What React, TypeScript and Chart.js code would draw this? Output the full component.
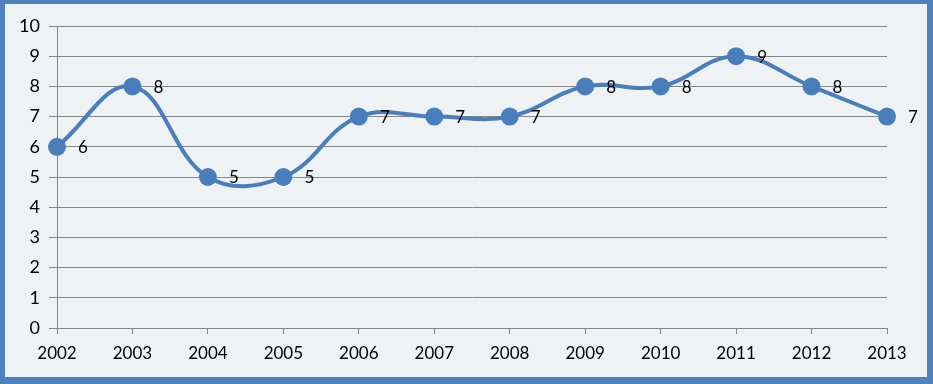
import React, { useEffect, useRef } from "react";
import { Chart, registerables } from "chart.js";

Chart.register(...registerables);

const years = ["2002", "2003", "2004", "2005", "2006", "2007", "2008", "2009", "2010", "2011", "2012", "2013"];
const values = [6, 8, 5, 5, 7, 7, 7, 8, 8, 9, 8, 7];

const BLUE = "#4A7EBB";
const GRID = "#868686";
const FONT = "Lato, 'Open Sans', sans-serif";

const dataLabels = {
  id: "dataLabels",
  afterDatasetsDraw(chart: any) {
    const ctx = chart.ctx;
    const meta = chart.getDatasetMeta(0);
    ctx.save();
    ctx.fillStyle = "#000000";
    ctx.font = `17px ${FONT}`;
    ctx.textAlign = "center";
    ctx.textBaseline = "middle";
    meta.data.forEach((pt: any, i: number) => {
      ctx.fillText(String(values[i]), pt.x + 26, pt.y + 1);
    });
    ctx.restore();
  },
};

export default function App() {
  const ref = useRef<HTMLCanvasElement | null>(null);

  useEffect(() => {
    if (!ref.current) return;
    const chart = new Chart(ref.current, {
      type: "line",
      data: {
        labels: years,
        datasets: [
          {
            data: values,
            borderColor: BLUE,
            backgroundColor: BLUE,
            borderWidth: 4,
            tension: 0.4,
            pointRadius: 9,
            pointHoverRadius: 9,
            pointBorderWidth: 0,
            pointBackgroundColor: BLUE,
            fill: false,
          },
        ],
      },
      options: {
        responsive: false,
        animation: false,
        layout: { padding: { left: 0, right: 46, top: 26, bottom: 0 } },
        plugins: {
          legend: { display: false },
          tooltip: { enabled: false },
        },
        scales: {
          x: {
            offset: false,
            grid: {
              display: true,
              drawOnChartArea: false,
              drawTicks: true,
              tickLength: 6,
              color: GRID,
            },
            border: { display: true, color: GRID, width: 1 },
            ticks: {
              color: "#000000",
              font: { family: FONT, size: 17 },
              padding: 9,
              maxRotation: 0,
              autoSkip: false,
            },
            afterFit: (scale: any) => {
              scale.height = 56;
            },
          },
          y: {
            min: 0,
            max: 10,
            grid: {
              display: true,
              drawTicks: true,
              tickLength: 8,
              color: GRID,
            },
            border: { display: true, color: GRID, width: 1 },
            ticks: {
              stepSize: 1,
              color: "#000000",
              font: { family: FONT, size: 18 },
              padding: 9,
            },
            afterFit: (scale: any) => {
              scale.width = 57;
            },
          },
        },
      },
      plugins: [dataLabels],
    });
    return () => chart.destroy();
  }, []);

  return (
    <div style={{ position: "fixed", left: 0, top: 0, width: 933, height: 384, background: "#4F81BD" }}>
      <div
        style={{
          position: "absolute",
          left: 5,
          top: 4,
          width: 922,
          height: 373,
          background: "#EEF2F4",
        }}
      />
      <canvas
        ref={ref}
        width={933}
        height={384}
        style={{ position: "absolute", left: 0, top: 0, width: 933, height: 384 }}
      />
    </div>
  );
}
